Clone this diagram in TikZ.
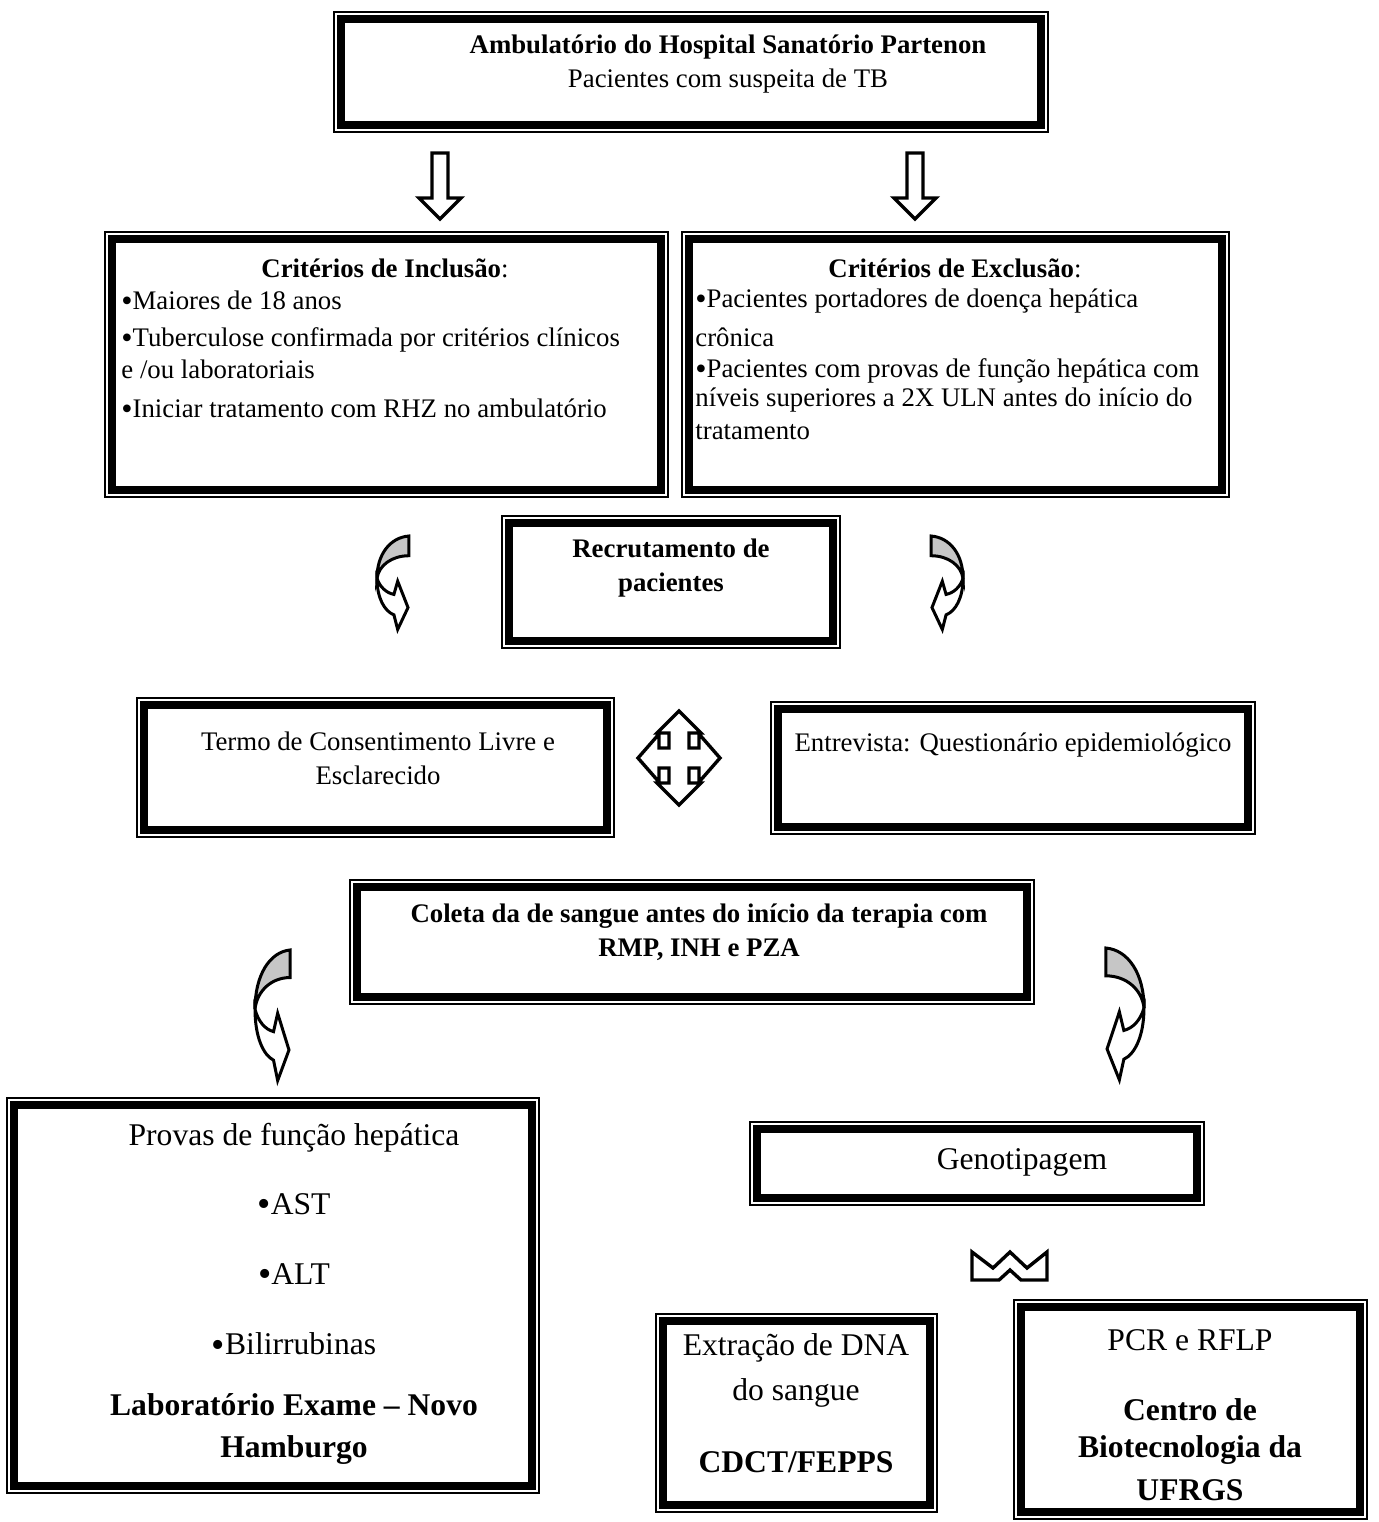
\documentclass[tikz,border=0pt]{standalone}
\usepackage{fontspec}
\setmainfont{Liberation Serif}
\usetikzlibrary{calc,fit}

\newcommand\bulletmark{\raisebox{-0.15ex}{\scalebox{1.2}{\textbullet}}}

\tikzset{
  frame/.style={draw, line width=0.65pt, inner sep=0pt, outer sep=0pt,
    path picture={\draw[line width=3.8pt]
      ([shift={(3.55pt,-3.55pt)}]path picture bounding box.north west) rectangle
      ([shift={(-3.55pt,3.55pt)}]path picture bounding box.south east);}},
  txt/.style={inner sep=0pt, font=\fontsize{13.4}{17}\selectfont},
  big/.style={inner sep=0pt, font=\fontsize{15.8}{20}\selectfont},
  blockarrow/.style={draw, line width=1.7pt, fill=white, line join=miter},
  downarrow/.pic={
    \draw[blockarrow] (-8,0) -- (8,0) -- (8,45) -- (21,45) -- (0,66)
      -- (-21,45) -- (-8,45) -- cycle;
  },
  curvarrow/.pic={
    \filldraw[fill=gray!45, draw=black, line width=1.5pt] (34,0)
      .. controls (14,2) and (0,25) .. (0,58)
      .. controls (2,40) and (16,27) .. (34,27) -- cycle;
    \filldraw[fill=white, draw=black, line width=1.5pt] (0,58)
      .. controls (0,85) and (8,103) .. (18,108)
      -- (22,128) -- (33,98) -- (22,62) -- (18,80)
      .. controls (10,78) and (3,70) .. (0,58) -- cycle;
  }
}

\begin{document}
\begin{tikzpicture}[x=0.5pt, y=-0.5pt]
  \useasboundingbox (0,0) rectangle (1379,1522);

  % Define the framed boxes
  \node[frame, fit={(334,12) (1048,132)}] (amb) {};
  \node[frame, fit={(105,232) (668,497)}] (incl) {};
  \node[frame, fit={(682,232) (1229,497)}] (excl) {};
  \node[frame, fit={(502,516) (840,648)}] (recr) {};
  \node[frame, fit={(137,698) (614,837)}] (termo) {};
  \node[frame, fit={(771,702) (1255,834)}] (entr) {};
  \node[frame, fit={(350,880) (1034,1004)}] (coleta) {};
  \node[frame, fit={(7,1098) (539,1493)}] (provas) {};
  \node[frame, fit={(750,1122) (1204,1205)}] (geno) {};
  \node[frame, fit={(656,1314) (937,1512)}] (extr) {};
  \node[frame, fit={(1014,1300) (1367,1519)}] (pcr) {};

  % Top box
  \node[txt, align=center] (ambT) at (728,64)
    {\textbf{Ambulatório do Hospital Sanatório Partenon}\\Pacientes com suspeita de TB};

  % Inclusion criteria
  \node[txt] (inclH) at (385,268) {\textbf{Critérios de Inclusão}:};
  \node[txt, anchor=west] (incl1) at (121,301) {\bulletmark Maiores de 18 anos};
  \node[txt, anchor=west] (incl2) at (121,340) {\bulletmark Tuberculose confirmada por critérios clínicos};
  \node[txt, anchor=west] (incl3) at (121,369) {e /ou laboratoriais};
  \node[txt, anchor=west] (incl4) at (121,409) {\bulletmark Iniciar tratamento com RHZ no ambulatório};

  % Exclusion criteria
  \node[txt] (exclH) at (955,268) {\textbf{Critérios de Exclusão}:};
  \node[txt, anchor=west] (excl1) at (695,301) {\bulletmark Pacientes portadores de doença hepática};
  \node[txt, anchor=west] (excl2) at (695,337) {crônica};
  \node[txt, anchor=west] (excl3) at (695,371) {\bulletmark Pacientes com provas de função hepática com};
  \node[txt, anchor=west] (excl4) at (695,400) {níveis superiores a 2X ULN antes do início do};
  \node[txt, anchor=west] (excl5) at (695,432) {tratamento};

  % Middle boxes
  \node[txt, align=center] (recrT) at (671,568) {\textbf{Recrutamento de}\\\textbf{pacientes}};
  \node[txt, align=center] (termoT) at (378,758) {Termo de Consentimento Livre e\\Esclarecido};
  \node[txt] (entrT) at (1013,745) {Entrevista: Questionário epidemiológico};
  \node[txt, align=center] (coletaT) at (699,932)
    {\textbf{Coleta da de sangue antes do início da terapia com}\\\textbf{RMP, INH e PZA}};

  % Liver tests
  \node[big] (provasT) at (294,1138) {Provas de função hepática};
  \node[big] (ast) at (294,1205) {\bulletmark AST};
  \node[big] (alt) at (294,1275) {\bulletmark ALT};
  \node[big] (bili) at (294,1345) {\bulletmark Bilirrubinas};
  \node[big] (lab1) at (294,1405) {\textbf{Laboratório Exame – Novo}};
  \node[big] (lab2) at (294,1450) {\textbf{Hamburgo}};

  % Genotyping
  \node[big] (genoT) at (1022,1162) {Genotipagem};
  \node[big] (extr1) at (796,1348) {Extração de DNA};
  \node[big] (extr2) at (796,1393) {do sangue};
  \node[big] (extr3) at (796,1462) {\textbf{CDCT/FEPPS}};
  \node[big] (pcr1) at (1190,1340) {PCR e RFLP};
  \node[big] (pcr2) at (1190,1410) {\textbf{Centro de}};
  \node[big] (pcr3) at (1190,1450) {\textbf{Biotecnologia da}};
  \node[big] (pcr4) at (1190,1490) {\textbf{UFRGS}};

  % Block arrows
  \pic at (440,153) {downarrow};
  \pic at (915,153) {downarrow};
  \pic[xscale=0.94, yscale=0.73] at (377,536) {curvarrow};
  \pic[xscale=-0.94, yscale=0.73] at (963,536) {curvarrow};
  \pic[xscale=1.03, yscale=1.02] at (255,950) {curvarrow};
  \pic[xscale=-1.12, yscale=1.03] at (1144,948) {curvarrow};

  % four-way arrow
  \begin{scope}[shift={(679,758)}]
    \draw[blockarrow] (0,-47) -- (22,-25) -- (10,-25) -- (10,-10) -- (20,-10) -- (20,-24)
      -- (41,0) -- (20,24) -- (20,10) -- (10,10) -- (10,25) -- (22,25) -- (0,47)
      -- (-22,25) -- (-10,25) -- (-10,10) -- (-20,10) -- (-20,24) -- (-41,0)
      -- (-20,-24) -- (-20,-10) -- (-10,-10) -- (-10,-25) -- (-22,-25) -- cycle;
  \end{scope}

  % arrow under Genotipagem
  \draw[blockarrow] (972,1252) -- (972,1280) -- (999,1280) -- (1010,1270) -- (1021,1280)
    -- (1047,1280) -- (1047,1252) -- (1027,1268) -- (1010,1252) -- (993,1268) -- cycle;
\end{tikzpicture}
\end{document}
